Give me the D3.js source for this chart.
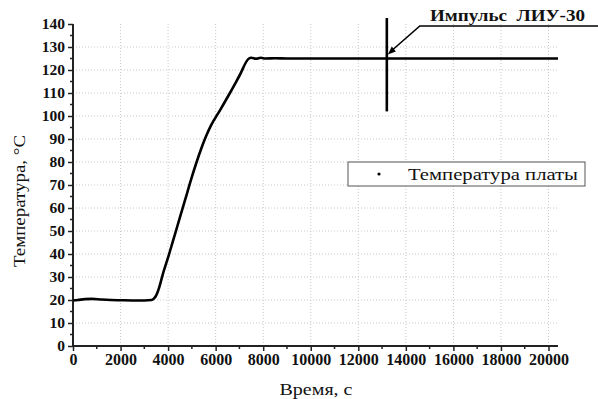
<!DOCTYPE html>
<html><head><meta charset="utf-8">
<script src="https://cdn.jsdelivr.net/npm/d3@7"></script>
<style>
body{margin:0;background:#fff;}
svg{display:block;}
text{font-family:"Liberation Serif","Times New Roman",serif;fill:#111;}
</style></head>
<body>
<svg id="c" width="598" height="399"></svg>
<script>
// Data
const timeS = [0,200,500,800,1200,1600,2000,2500,3000,3300,3400,3500,3600,3700,3800,4000,4200,4400,4600,4800,5000,5200,5400,5600,5800,6200,6600,7000,7400,7500,7700,7900,8100,8500,9000,10000,12000,14000,16000,18000,20400];
const tempC = [19.8,20,20.4,20.5,20.2,20,19.9,19.8,19.8,20,20.6,22,24.6,28.2,32,38.5,45.5,52.5,59.5,66.5,73.5,80,86,91.3,95.8,102.8,110,117.5,125,125.3,124.9,125.3,125,125.1,125,125,125,125,125,125,125];
const xTicks = [0,2000,4000,6000,8000,10000,12000,14000,16000,18000,20000];
const yTicks = [0,10,20,30,40,50,60,70,80,90,100,110,120,130,140];
const pulseTime = 13200;
const pulseRange = [102,142.6];
const legendLabel = "Температура платы";
const annotationLabel = "Импульс  ЛИУ-30";
const xTitle = "Время, с";
const yTitle = "Температура, °C";

const svg = d3.select("#c");
const x = d3.scaleLinear().domain([0,20400]).range([73,558]);
const y = d3.scaleLinear().domain([0,140]).range([346,24]);

// grid
const g = svg.append("g");
g.selectAll(".vg").data(xTicks.filter(d=>d>0)).join("line")
 .attr("x1",d=>x(d)).attr("x2",d=>x(d)).attr("y1",y(0)).attr("y2",y(140))
 .attr("stroke","#c8c8c8").attr("stroke-width",1).attr("stroke-dasharray","1,2");
g.selectAll(".hg").data(yTicks.filter(d=>d>0&&d<140)).join("line")
 .attr("x1",x(0)).attr("x2",x(20400)).attr("y1",d=>y(d)).attr("y2",d=>y(d))
 .attr("stroke","#c8c8c8").attr("stroke-width",1).attr("stroke-dasharray","1,2");

// axes
const xAxis = d3.axisBottom(x).tickValues(xTicks).tickSize(5).tickPadding(3).tickFormat(d3.format("d"));
const xa = svg.append("g").attr("transform",`translate(0,${y(0)})`).call(xAxis);
xa.select(".domain").attr("d",`M${x(0)},0H${x(20400)}`).attr("stroke","#222").attr("stroke-width",2);
xa.selectAll(".tick line").attr("stroke","#222").attr("stroke-width",1.5);
xa.selectAll("text").attr("font-size",16).attr("font-weight","bold").attr("font-family","Liberation Serif").attr("fill","#222");
const xMinor = d3.range(1000,20400,2000);
svg.append("g").selectAll("line").data(xMinor).join("line")
 .attr("x1",d=>x(d)).attr("x2",d=>x(d)).attr("y1",y(0)).attr("y2",y(0)+3)
 .attr("stroke","#222").attr("stroke-width",1.5);

const yAxis = d3.axisLeft(y).tickValues(yTicks).tickSize(5).tickPadding(3);
const ya = svg.append("g").attr("transform",`translate(${x(0)},0)`).call(yAxis);
ya.select(".domain").attr("d",`M0,${y(0)}V${y(140)}`).attr("stroke","#222").attr("stroke-width",2);
ya.selectAll(".tick line").attr("stroke","#222").attr("stroke-width",1.5);
ya.selectAll("text").attr("font-size",15.5).attr("font-weight","bold").attr("font-family","Liberation Serif").attr("fill","#222");
const yMinor = d3.range(5,140,10);
svg.append("g").selectAll("line").data(yMinor).join("line")
 .attr("x1",x(0)-3).attr("x2",x(0)).attr("y1",d=>y(d)).attr("y2",d=>y(d))
 .attr("stroke","#222").attr("stroke-width",1.5);

// data line
const line = d3.line().x((d,i)=>x(timeS[i])).y((d,i)=>y(tempC[i])).curve(d3.curveMonotoneX);
svg.append("path").datum(tempC).attr("d",line).attr("fill","none")
 .attr("stroke","#000").attr("stroke-width",2.6).attr("stroke-linejoin","round");

// pulse marker
svg.append("line").attr("x1",x(pulseTime)).attr("x2",x(pulseTime))
 .attr("y1",y(pulseRange[1])).attr("y2",y(pulseRange[0]))
 .attr("stroke","#000").attr("stroke-width",2.6);

// annotation
const ax0 = x(pulseTime)+33, ay0 = 26;
svg.append("path").attr("d",`M598,${ay0}H${ax0}L${x(pulseTime)+5},${y(125)-8}`)
 .attr("fill","none").attr("stroke","#000").attr("stroke-width",1.6);
svg.append("path").attr("d",`M${x(pulseTime)+1},${y(125)-4}L${x(pulseTime)+9},${y(125)-7}L${x(pulseTime)+5},${y(125)-12}Z`)
 .attr("fill","#000");
svg.append("text").attr("x",430).attr("y",21).attr("font-size",16).attr("font-weight","bold")
 .attr("textLength",155).attr("lengthAdjust","spacingAndGlyphs").attr("xml:space","preserve")
 .style("white-space","pre").text(annotationLabel);

// legend
svg.append("rect").attr("x",348).attr("y",162).attr("width",237).attr("height",24)
 .attr("fill","#fff").attr("stroke","#555").attr("stroke-width",1);
svg.append("circle").attr("cx",379).attr("cy",174).attr("r",1.6).attr("fill","#000");
svg.append("text").attr("x",408).attr("y",180).attr("font-size",17)
 .attr("textLength",170).attr("lengthAdjust","spacingAndGlyphs").text(legendLabel);

// titles
svg.append("text").attr("x",316).attr("y",395).attr("text-anchor","middle").attr("font-size",16)
 .attr("textLength",73).attr("lengthAdjust","spacingAndGlyphs").text(xTitle);
svg.append("text").attr("transform","translate(25,201) rotate(-90)").attr("text-anchor","middle")
 .attr("font-size",17).attr("textLength",132).attr("lengthAdjust","spacingAndGlyphs").text(yTitle);
</script>
</body></html>
